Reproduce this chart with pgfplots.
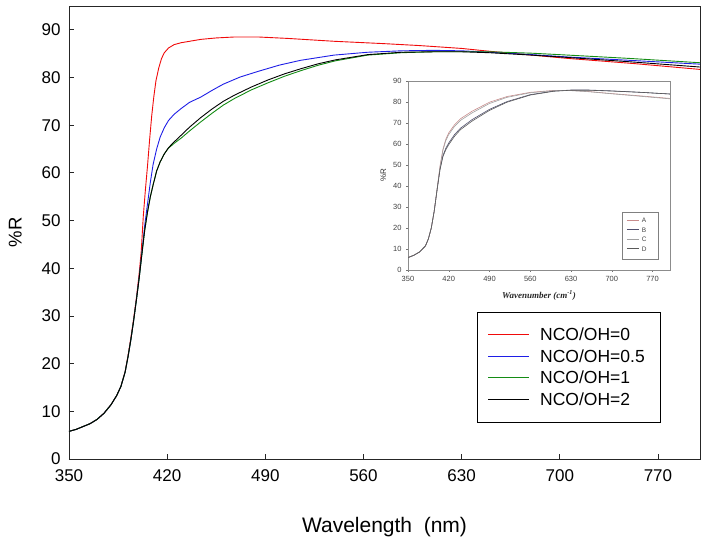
\documentclass[border=0pt]{standalone}
\usepackage{pgfplots}
\pgfplotsset{compat=1.18}
\usepackage{fontspec}
\setmainfont{Liberation Sans}
\newfontfamily\serifbi{Liberation Serif}
\usetikzlibrary{calc}
\pgfplotsset{/pgf/number format/assume math mode=true}
\definecolor{cred}{RGB}{240,10,10}
\definecolor{cblue}{RGB}{30,30,230}
\definecolor{cgreen}{RGB}{20,140,20}
\definecolor{iA}{RGB}{200,140,140}
\definecolor{iB}{RGB}{80,80,110}
\definecolor{iC}{RGB}{160,160,160}
\definecolor{iD}{RGB}{90,90,90}
\newcommand{\keyline}[1]{\textcolor{#1}{\rule[5.8pt]{41pt}{0.9pt}}\hspace{11pt}}
\newcommand{\ikeyline}[1]{\textcolor{#1}{\rule[2.3pt]{12pt}{0.6pt}}\hspace{3pt}}
\begin{document}
\begin{tikzpicture}
\begin{axis}[name=main,
  width=631pt, height=453pt, scale only axis,
  xmin=350, xmax=800, ymin=0, ymax=95,
  xtick={350,420,...,770}, ytick={0,10,...,90},
  tick align=inside, major tick length=5pt,
  xtick pos=bottom, ytick pos=left,
  axis line style={black!85, line width=0.9pt},
  tick style={black!85, line width=0.8pt},
  tick label style={font=\fontsize{17}{20}\selectfont},
  xticklabel style={yshift=-7pt},
  yticklabel style={xshift=-5pt},
  xlabel={Wavelength\ \ (nm)},
  xlabel style={font=\fontsize{21}{24}\selectfont, yshift=-29pt},
  ylabel={\%R},
  ylabel style={font=\fontsize{18.5}{22}\selectfont, at={(ticklabel cs:0.5)}, yshift=13pt},
  legend plot pos=none,
  legend style={name=mainleg, at={(rel axis cs:0.6466,0.0796)}, anchor=south west, draw=none, fill=none,
    font=\fontsize{17.5}{20}\selectfont, inner xsep=8pt, inner ysep=11.5pt,
    nodes={text height=12.5pt, text depth=3pt, inner sep=3pt}},
  legend cell align=left,
]
\addplot[cred, line width=0.9pt] coordinates {(350,5.8)(355,6.2)(360,6.8)(365,7.4)(370,8.3)(375,9.6)(380,11.4)(384,13.3)(387,15.2)(390,18.3)(392,21.5)(394,25.2)(396,29.2)(398,33.6)(400,38.8)(401.5,43.5)(403,51)(404.5,56.5)(406,61.5)(407.5,67)(409,72)(410.5,76)(412,79.3)(414,82)(416,84)(418,85.2)(421,86.2)(425,86.9)(430,87.3)(436,87.6)(444,88.0)(455,88.3)(468,88.5)(485,88.5)(506,88.2)(539,87.6)(575,87.1)(600,86.7)(630,86.1)(650,85.5)(680,84.7)(706,84.0)(754,82.9)(800,81.7)};
\addlegendentry{\keyline{cred}NCO/OH=0}
\addplot[cblue, line width=0.9pt] coordinates {(350,5.8)(355,6.2)(360,6.8)(365,7.4)(370,8.3)(375,9.6)(380,11.4)(384,13.3)(387,15.2)(390,18.2)(392,21.3)(394,24.8)(396,28.8)(398,33.3)(400,38)(402,43.3)(404,49)(406,53.5)(408,58)(410,61.8)(412.5,65)(415,67.5)(418,69.5)(421,71)(425,72.3)(430,73.5)(436,74.8)(444,75.9)(452,77.3)(460,78.6)(472,80.1)(485,81.3)(500,82.6)(515,83.6)(539,84.7)(563,85.3)(587,85.6)(610,85.7)(630,85.6)(650,85.3)(680,84.8)(706,84.3)(750,83.6)(800,82.8)};
\addlegendentry{\keyline{cblue}NCO/OH=0.5}
\addplot[cgreen, line width=0.9pt] coordinates {(350,5.8)(355,6.2)(360,6.8)(365,7.4)(370,8.3)(375,9.6)(380,11.4)(384,13.3)(387,15.2)(390,18.2)(392,21.3)(394,24.8)(396,28.8)(398,33.2)(400,37.8)(402,43)(404,48)(406,51.8)(408,55)(410,57.5)(412.5,60.4)(415,62.3)(418,64)(421,65.2)(425,66.2)(430,67.3)(436,68.8)(444,70.7)(452,72.5)(460,74.2)(468,75.6)(480,77.4)(492,78.9)(504,80.3)(516,81.5)(528,82.6)(540,83.5)(563,84.7)(587,85.2)(610,85.4)(630,85.4)(650,85.4)(680,85.1)(706,84.7)(750,84.0)(800,83.1)};
\addlegendentry{\keyline{cgreen}NCO/OH=1}
\addplot[black, line width=0.9pt] coordinates {(350,5.8)(355,6.2)(360,6.8)(365,7.4)(370,8.3)(375,9.6)(380,11.4)(384,13.3)(387,15.2)(390,18.2)(392,21.3)(394,24.8)(396,28.8)(398,33.2)(400,37.8)(402,43)(404,48)(406,51.8)(408,55)(410,57.5)(412.5,60.4)(415,62.3)(418,64)(421,65.3)(425,66.5)(430,67.9)(436,69.6)(444,71.6)(452,73.4)(460,75)(468,76.3)(480,78)(492,79.5)(504,80.8)(516,81.9)(528,82.9)(540,83.7)(563,84.8)(587,85.3)(610,85.4)(630,85.4)(650,85.2)(680,84.7)(706,84.2)(750,83.3)(800,82.2)};
\addlegendentry{\keyline{black}NCO/OH=2}
\end{axis}
\draw[black, line width=0.9pt] (mainleg.south west) rectangle ++(183pt,110pt);
\begin{axis}[name=inset,
  at={($(main.south west)+(339pt,189pt)$)}, anchor=south west,
  width=262pt, height=189pt, scale only axis,
  xmin=350, xmax=800, ymin=0, ymax=90,
  xtick={350,420,...,770}, ytick={0,10,...,90},
  tick align=outside, major tick length=2pt,
  xtick pos=bottom, ytick pos=left,
  axis line style={black!45, line width=0.6pt},
  tick style={black!55, line width=0.5pt},
  tick label style={font=\fontsize{7.5}{9}\selectfont, text=black!75},
  xticklabel style={yshift=-1pt},
  yticklabel style={xshift=-1pt},
  xlabel={\serifbi\bfseries\itshape Wavenumber (cm\textsuperscript{-1})},
  xlabel style={font=\fontsize{9}{11}\selectfont, text=black!85, yshift=-2pt},
  ylabel={\%R},
  ylabel style={font=\fontsize{8}{10}\selectfont, text=black!80},
  legend plot pos=none,
  legend style={name=insleg, at={(rel axis cs:0.817,0.058)}, anchor=south west, draw=none, fill=none,
    font=\fontsize{6.5}{8}\selectfont, text=black!75, inner xsep=3pt, inner ysep=4.5pt,
    nodes={text height=5pt, text depth=1.5pt, inner sep=1.5pt}},
  legend cell align=left,
]
\addplot[iA, line width=0.6pt] coordinates {(350,5.9)(360,7)(370,8.6)(380,11.5)(385,14.8)(390,20)(395,28)(400,38.5)(405,49.5)(410,57.5)(415,62.3)(420,65.3)(430,69.2)(440,72)(460,75.6)(490,79.9)(520,82.6)(560,84.6)(600,85.5)(630,85.5)(660,85)(700,84)(750,82.9)(800,81.7)};
\addlegendentry{\ikeyline{iA}A}
\addplot[iB, line width=0.6pt] coordinates {(350,5.9)(360,7)(370,8.6)(380,11.5)(385,14.8)(390,20)(395,28)(400,38.3)(405,48)(410,54.5)(415,58)(420,60.5)(430,64.5)(440,67.5)(460,71.6)(490,76.5)(520,80.2)(560,83.5)(600,85.2)(630,85.7)(660,85.7)(700,85.3)(750,84.6)(800,83.8)};
\addlegendentry{\ikeyline{iB}B}
\addplot[iC, line width=0.6pt] coordinates {(350,5.9)(360,7)(370,8.6)(380,11.5)(385,14.8)(390,20)(395,28)(400,38.5)(405,49)(410,57)(415,61.7)(420,64.5)(430,68.4)(440,71.2)(460,74.8)(490,79.3)(520,82.2)(560,84.4)(600,85.4)(630,85.4)(660,84.9)(700,83.9)(750,82.7)(800,81.5)};
\addlegendentry{\ikeyline{iC}C}
\addplot[iD, line width=0.6pt] coordinates {(350,5.9)(360,7)(370,8.6)(380,11.5)(385,14.8)(390,20)(395,28)(400,38.3)(405,47.8)(410,54)(415,57.3)(420,59.7)(430,63.7)(440,66.8)(460,70.9)(490,76)(520,79.9)(560,83.3)(600,85.1)(630,85.6)(660,85.6)(700,85.2)(750,84.6)(800,83.8)};
\addlegendentry{\ikeyline{iD}D}
\end{axis}
\draw[black!50, line width=0.8pt] (insleg.south west) rectangle ++(36pt,47pt);
\pgfresetboundingbox
\path[use as bounding box] ($(main.south west)+(-69pt,-85pt)$) rectangle ($(main.north east)+(5pt,6pt)$);
\end{tikzpicture}
\end{document}
